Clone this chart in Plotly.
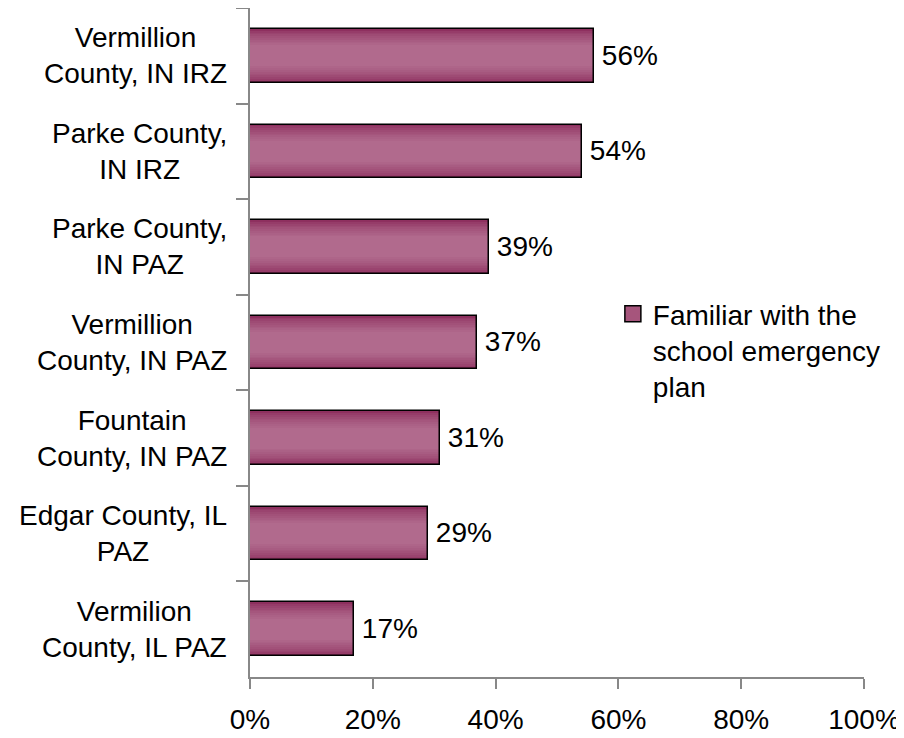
import plotly.graph_objects as go

categories = [
    "Vermillion<br>County, IN IRZ",
    "Parke County,<br>IN IRZ",
    "Parke County,<br>IN PAZ",
    "Vermillion<br>County, IN PAZ",
    "Fountain<br>County, IN PAZ",
    "Edgar County, IL<br>PAZ",
    "Vermilion<br>County, IL PAZ",
]
values = [0.56, 0.54, 0.39, 0.37, 0.31, 0.29, 0.17]
series_name = "Familiar with the<br>school emergency<br>plan"
x_tickvals = [0, 0.2, 0.4, 0.6, 0.8, 1.0]
x_ticktext = ["0%", "20%", "40%", "60%", "80%", "100%"]

FONT = "Liberation Sans, Arial, sans-serif"
BAR_W = 0.56
dark = (142, 48, 95)
light = (177, 106, 141)
mid = (166, 85, 124)

fig = go.Figure()

# gradient layers (dark outside -> light inside)
n = 10
for k in range(n):
    t = k / (n - 1)
    w = BAR_W - (BAR_W - 0.22) * t
    c = tuple(round(dark[i] + (light[i] - dark[i]) * (t ** 0.7)) for i in range(3))
    fig.add_trace(go.Bar(
        x=values, y=categories, orientation="h", width=w,
        marker=dict(color="rgb(%d,%d,%d)" % c, line=dict(width=0)),
        showlegend=False, hoverinfo="skip",
    ))

# outline + labels
fig.add_trace(go.Bar(
    x=values, y=categories, orientation="h", width=BAR_W,
    marker=dict(color="rgba(0,0,0,0)", line=dict(color="black", width=1.5)),
    texttemplate="\u2009%{x:.0%}", textposition="outside", constraintext="none",
    textfont=dict(size=28, color="black", family=FONT), cliponaxis=False,
    showlegend=False,
))

# legend entry
fig.add_trace(go.Scatter(
    x=[None], y=[None], mode="markers", name=series_name,
    marker=dict(symbol="square", size=17, color="rgb(%d,%d,%d)" % mid,
                line=dict(color="black", width=1.5)),
))

for cat in categories:
    fig.add_annotation(
        x=0, xref="paper", y=cat, yref="y", text=cat, showarrow=False,
        xanchor="right", yanchor="middle", align="center", xshift=-21,
        font=dict(size=28, color="black", family=FONT),
    )

fig.update_layout(
    width=896, height=730,
    margin=dict(l=242, r=40, t=0, b=61),
    plot_bgcolor="white", paper_bgcolor="white",
    barmode="overlay", bargap=0,
    font=dict(family=FONT, size=28, color="black"),
    showlegend=True,
    legend=dict(x=0.591, y=0.580, xanchor="left", yanchor="top", valign="top",
                font=dict(size=28, family=FONT, color="black"),
                bgcolor="rgba(0,0,0,0)", itemsizing="trace"),
    xaxis=dict(range=[0, 1], tickvals=x_tickvals, ticktext=x_ticktext,
               showgrid=False, zeroline=False, showline=True, linecolor="#888",
               linewidth=1.5, ticks="outside", ticklen=10, tickcolor="#888",
               tickwidth=1.5, ticklabelstandoff=7,
               tickfont=dict(size=28, family=FONT, color="black"),
               fixedrange=True, automargin=False),
    yaxis=dict(categoryorder="array", categoryarray=categories, autorange="reversed",
               showticklabels=False, showgrid=False, zeroline=False, showline=True,
               linecolor="#888", linewidth=1.5, ticks="outside", ticklen=12,
               tickcolor="#888", tickwidth=1.5, tickson="boundaries", fixedrange=True,
               automargin=False),
)

fig.write_html("out.html")
